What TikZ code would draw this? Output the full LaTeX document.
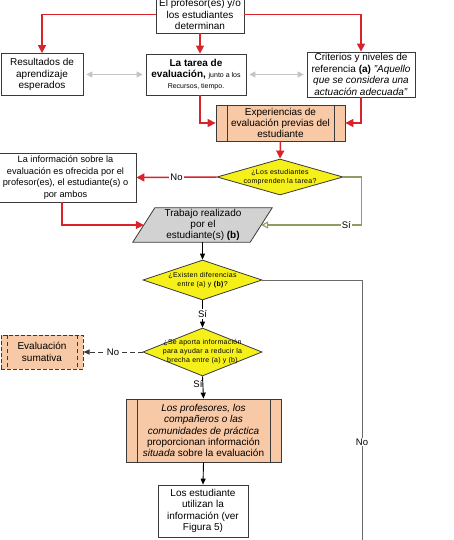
\documentclass[tikz,border=0pt]{standalone}
\usepackage{fontspec}
\setmainfont{Liberation Sans}
\usetikzlibrary{arrows.meta,shapes.geometric,calc}
\definecolor{redline}{HTML}{D8232A}
\definecolor{peach}{HTML}{F8C9A6}
\definecolor{yel}{HTML}{F6F01A}
\definecolor{boxgray}{HTML}{3A3A3A}
\definecolor{lightarr}{HTML}{C4C4C4}
\definecolor{olive}{HTML}{8E9E62}
\definecolor{midgray}{HTML}{6A6A6A}
\definecolor{paral}{HTML}{D2D2D2}
\begin{document}
\begin{tikzpicture}[x=1pt,y=-1pt,
  txt/.style={font=\fontsize{10}{11.4}\selectfont},
  box/.style={draw=boxgray, line width=0.8pt, fill=white, align=center, inner sep=0.5pt, txt},
  proc/.style={box, fill=peach, path picture={
      \draw[boxgray, line width=0.8pt] ([xshift=#1]path picture bounding box.north west) -- ([xshift=#1]path picture bounding box.south west);
      \draw[boxgray, line width=0.8pt] ([xshift=-#1]path picture bounding box.north east) -- ([xshift=-#1]path picture bounding box.south east);}},
  dproc/.style={box, fill=peach, dashed, dash pattern=on 4pt off 2pt, line width=1pt, path picture={
      \draw[boxgray, line width=1pt, dash pattern=on 4pt off 3pt] ([xshift=#1]path picture bounding box.north west) -- ([xshift=#1]path picture bounding box.south west);
      \draw[boxgray, line width=1pt, dash pattern=on 4pt off 3pt] ([xshift=-#1]path picture bounding box.north east) -- ([xshift=-#1]path picture bounding box.south east);}},
  dia/.style={diamond, draw=boxgray, line width=0.8pt, fill=yel, inner sep=0pt},
  dtext/.style={align=center, inner sep=0pt, font=\fontsize{7}{9}\selectfont\addfontfeatures{LetterSpace=4}},
  redarr/.style={draw=redline, line width=1.5pt, -{Triangle[length=8pt,width=8pt]}},
  grayarr/.style={draw=lightarr, line width=1.2pt, {Triangle[length=6pt,width=6pt]}-{Triangle[length=6pt,width=6pt]}, shorten >=3pt, shorten <=3pt},
  blackarr/.style={draw=black, line width=0.9pt, -{Triangle[length=6pt,width=5pt]}},
  greenarr/.style={draw=olive, line width=1.1pt, -{Triangle[length=7pt,width=7pt,open]}},
  grayline/.style={draw=midgray, line width=1pt},
  dasharr/.style={draw=boxgray, line width=0.9pt, dash pattern=on 5pt off 3pt, -{Triangle[length=6pt,width=5pt]}},
  lbl/.style={fill=white, inner sep=1pt, font=\fontsize{9.5}{10}\selectfont}
]
\useasboundingbox[fill=white] (0,0) rectangle (454,540);

% nodes
\node[box, minimum width=88, minimum height=37] (top) at (200,14.5) {El profesor(es) y/o\\los estudiantes\\determinan};
\node[box, minimum width=82, minimum height=42] (res) at (42,74.5) {Resultados de\\aprendizaje\\esperados};
\node[box, minimum width=100, minimum height=41] (tarea) at (196,74.5) {\textbf{La tarea de}\\\textbf{evaluación,} {\fontsize{7}{8}\selectfont junto a los}\\[-1pt]{\fontsize{7}{8}\selectfont Recursos, tiempo.}};
\node[box, minimum width=108, minimum height=45] (crit) at (361,74.5) {Criterios y niveles de\\referencia \textbf{(a)} \textit{"Aquello}\\\textit{que se considera una}\\\textit{actuación adecuada"}};
\node[proc=11pt, minimum width=129, minimum height=36] (exp) at (280.5,123) {Experiencias de\\evaluación previas del\\estudiante};
\node[dia, minimum width=126, minimum height=36] (d1) at (280,177) {};
\node[dtext] (d1t) at (d1) {¿Los estudiantes\\comprenden la tarea?};
\node[box, minimum width=141, minimum height=49, font=\fontsize{9.2}{11.4}\selectfont] (info) at (65.5,177.5) {La información sobre la\\evaluación es ofrecida por el\\profesor(es), el estudiante(s) o\\por ambos};
\node[minimum width=117, minimum height=34, inner sep=0pt] (trab) at (202.5,225) {};
\draw[draw=boxgray, line width=0.8pt, fill=paral] ([xshift=11pt]trab.north west) -- ([xshift=11pt]trab.north east) -- ([xshift=-11pt]trab.south east) -- ([xshift=-11pt]trab.south west) -- cycle;
\node[txt, align=center, inner sep=0pt] (trabt) at (203,225) {Trabajo realizado\\por el\\estudiante(s) \textbf{(b)}};
\node[dia, minimum width=119, minimum height=40] (d2) at (202.5,280) {};
\node[dtext] (d2t) at (d2) {¿Existen diferencias\\entre (a) y \textbf{(b)}?};
\node[dia, minimum width=119, minimum height=48] (d3) at (202.5,352) {};
\node[dtext] (d3t) at (d3) {¿Se aporta información\\para ayudar a reducir la\\brecha entre (a) y (b)};
\node[dproc=6pt, minimum width=82, minimum height=34] (eval) at (42,352) {Evaluación\\sumativa};
\node[proc=11pt, minimum width=155, minimum height=63] (box2) at (203.5,430.5) {\textit{Los profesores, los}\\\textit{compañeros o las}\\\textit{comunidades de práctica}\\proporcionan información\\\textit{situada} sobre la evaluación};
\node[box, minimum width=90, minimum height=52] (last) at (203,511) {Los estudiante\\utilizan la\\información (ver\\Figura 5)};
\coordinate (nobot) at (362,550);

% connectors
\draw[redarr] (top.west) -| (res.north);
\draw[redarr] (top.east) -| (crit.north);
\draw[redarr] (top.south) -- (top.south |- tarea.north);
\draw[grayarr] (res.east) -- (tarea.west);
\draw[grayarr] (tarea.east) -- (crit.west);
\draw[redarr] ([xshift=4pt]tarea.south) |- (exp.west);
\draw[redarr] (crit.south) |- (exp.east);
\draw[redarr] (exp.south) -- (d1.north);
\draw[redarr] (d1.west) -- node[lbl]{No} (info.east);
\draw[redarr] ([xshift=-3.5pt]info.south) |- (trab.west);
\draw[greenarr] (d1.east) -- ++(18,0) |- node[lbl, pos=0.575]{Sí} (trab.east);
\draw[blackarr] (trab.south) -- (d2.north);
\draw[grayline] (d2.east) -| node[lbl, pos=0.8]{No} (nobot);
\draw[blackarr] (d2.south) -- node[lbl]{Sí} (d3.north);
\draw[dasharr] (d3.west) -- node[lbl]{No} (eval.east);
\draw[blackarr] (d3.south) -- node[lbl, fill=none, anchor=east, xshift=1pt, pos=0.35]{Sí} (box2.north);
\draw[blackarr] (box2.south) -- (last.north);
\end{tikzpicture}
\end{document}
